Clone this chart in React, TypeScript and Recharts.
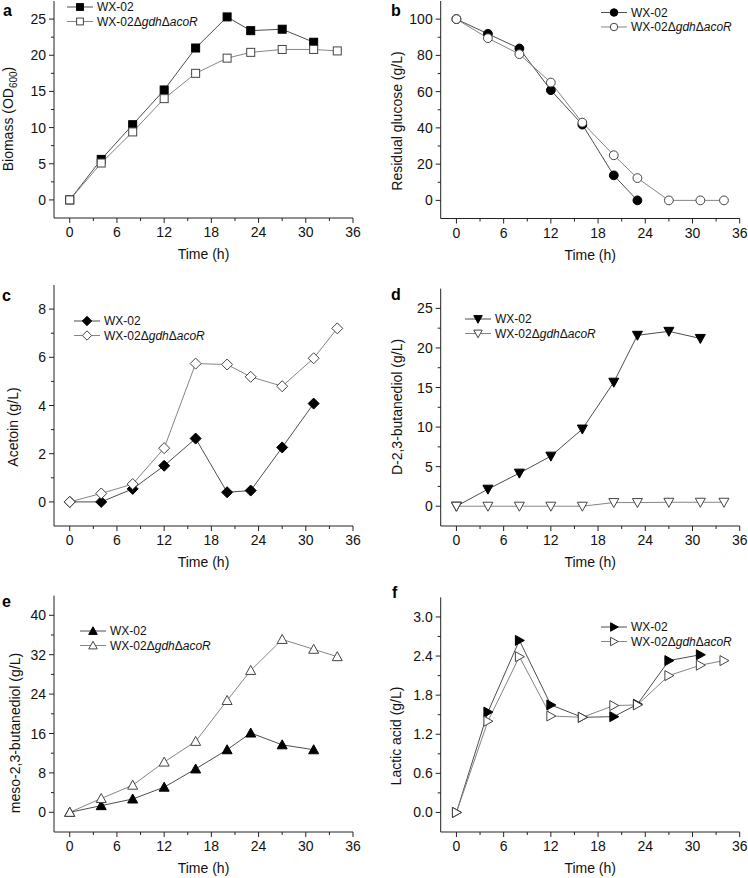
import { LineChart, Line, XAxis, YAxis, Customized } from "recharts";

// sampling times (h)
const TIME_WX = [0, 4, 8, 12, 16, 20, 23, 27, 31];
const TIME_WX_GLUCOSE = [0, 4, 8, 12, 16, 20, 23];
const TIME_MUT = [0, 4, 8, 12, 16, 20, 23, 27, 31, 34];

// a: biomass (OD600)
const biomassWX = [0, 5.6, 10.4, 15.2, 21.0, 25.3, 23.4, 23.6, 21.8];
const biomassMut = [0, 5.1, 9.4, 14.0, 17.5, 19.6, 20.4, 20.8, 20.8, 20.6];
// b: residual glucose (g/L)
const glucoseWX = [100, 91.9, 83.8, 60.8, 41.8, 13.8, 0];
const glucoseMut = [100, 89.5, 80.7, 65.0, 42.9, 24.9, 12.3, 0, 0, 0];
// c: acetoin (g/L)
const acetoinWX = [0, 0, 0.54, 1.5, 2.63, 0.4, 0.47, 2.26, 4.08];
const acetoinMut = [0, 0.35, 0.74, 2.23, 5.74, 5.7, 5.19, 4.8, 5.96, 7.2];
// d: D-2,3-butanediol (g/L)
const dBdoWX = [0, 2.15, 4.18, 6.33, 9.75, 15.67, 21.6, 22.1, 21.2];
const dBdoMut = [0, 0, 0, 0, 0, 0.46, 0.46, 0.5, 0.5, 0.5];
// e: meso-2,3-butanediol (g/L)
const mesoWX = [0, 1.35, 2.7, 5.1, 8.8, 12.7, 16.1, 13.7, 12.7];
const mesoMut = [0, 2.8, 5.5, 10.2, 14.4, 22.7, 28.8, 35.1, 33.1, 31.6];
// f: lactic acid (g/L)
const lacticWX = [0, 1.54, 2.64, 1.65, 1.46, 1.47, 1.66, 2.33, 2.42];
const lacticMut = [0, 1.4, 2.39, 1.48, 1.46, 1.64, 1.65, 2.1, 2.26, 2.33];

// axis ticks
const X_MAJOR = [0, 6, 12, 18, 24, 30, 36];
const X_MINOR = [3, 9, 15, 21, 27, 33];
const Y_MAJOR_A = [0, 5, 10, 15, 20, 25];
const Y_MINOR_A = [2.5, 7.5, 12.5, 17.5, 22.5];
const Y_MAJOR_B = [0, 20, 40, 60, 80, 100];
const Y_MINOR_B = [10, 30, 50, 70, 90];
const Y_MAJOR_C = [0, 2, 4, 6, 8];
const Y_MINOR_C = [1, 3, 5, 7];
const Y_MAJOR_D = [0, 5, 10, 15, 20, 25];
const Y_MINOR_D = [2.5, 7.5, 12.5, 17.5, 22.5];
const Y_MAJOR_E = [0, 8, 16, 24, 32, 40];
const Y_MINOR_E = [4, 12, 20, 28, 36];
const Y_MAJOR_F = [0, 0.6, 1.2, 1.8, 2.4, 3.0];
const Y_MINOR_F = [0.3, 0.9, 1.5, 2.1, 2.7];

const FONT = "'Liberation Sans', Arial, sans-serif";
const AXIS = "#222";
const WX_LINE = "#4d4d4d";
const MUT_LINE = "#858585";
const CHART_W = 374;
const CHART_H = 288;
const X_AXIS_H = 45;

type Kind = "square" | "circle" | "diamond" | "triDown" | "triUp" | "triRight";

function buildRows(tw: number[], wx: number[], tm: number[], mut: number[]) {
  const times = Array.from(new Set([...tw, ...tm])).sort((a, b) => a - b);
  return times.map((t) => {
    const i = tw.indexOf(t);
    const j = tm.indexOf(t);
    return { t, wx: i >= 0 ? wx[i] : null, mut: j >= 0 ? mut[j] : null };
  });
}

function Marker({ cx, cy, kind, filled, s = 1 }: { cx: number; cy: number; kind: Kind; filled: boolean; s?: number }) {
  const fill = filled ? "#000" : "#fff";
  const stroke = filled ? "#000" : "#444";
  const p = (pts: number[][]) => pts.map(([x, y]) => `${cx + x * s},${cy + y * s}`).join(" ");
  if (kind === "square") return <rect x={cx - 4 * s} y={cy - 4 * s} width={8 * s} height={8 * s} fill={fill} stroke={stroke} />;
  if (kind === "circle") return <circle cx={cx} cy={cy} r={4.4 * s} fill={fill} stroke={stroke} />;
  if (kind === "diamond") return <polygon points={p([[0, -5.5], [5.5, 0], [0, 5.5], [-5.5, 0]])} fill={fill} stroke={stroke} />;
  if (kind === "triDown") return <polygon points={p([[-5, -4], [5, -4], [0, 5]])} fill={fill} stroke={stroke} />;
  if (kind === "triUp") return <polygon points={p([[-5, 4], [5, 4], [0, -5]])} fill={fill} stroke={stroke} />;
  return <polygon points={p([[-4, -5], [-4, 5], [5, 0]])} fill={fill} stroke={stroke} />;
}

const mutLabel = (
  <>
    WX-02Δ<tspan fontStyle="italic">gdh</tspan>Δ<tspan fontStyle="italic">acoR</tspan>
  </>
);

function LegendBox({ x, y, kind }: { x: number; y: number; kind: Kind }) {
  const rows = [
    { filled: true, stroke: WX_LINE, text: <>WX-02</> },
    { filled: false, stroke: MUT_LINE, text: mutLabel },
  ];
  return (
    <g>
      {rows.map((r, i) => {
        const cy = y + i * 14.5;
        return (
          <g key={i}>
            <line x1={x} x2={x + 26} y1={cy} y2={cy} stroke={r.stroke} />
            <Marker cx={x + 13} cy={cy} kind={kind} filled={r.filled} s={0.85} />
            <text x={x + 30} y={cy + 4.3} fontSize={12} fontFamily={FONT} fill="#111">
              {r.text}
            </text>
          </g>
        );
      })}
    </g>
  );
}

interface PanelCfg {
  letter: string;
  colX: number;
  chartTop: number;
  axisX: number;
  plotRight: number;
  plotTop: number;
  plotBottom: number;
  yDomain: [number, number];
  yMajor: number[];
  yMinor: number[];
  yLabel: React.ReactNode;
  yLabelX: number;
  yLabelCY: number;
  legX: number;
  legY: number;
  kind: Kind;
  rows: { t: number; wx: number | null; mut: number | null }[];
  fmt: (v: number) => string;
  letterX: number;
  letterY: number;
}

const intFmt = (v: number) => String(v);
const decFmt = (v: number) => v.toFixed(1);

const PANELS: PanelCfg[] = [
  {
    letter: "a", colX: 0, chartTop: 0, axisX: 54, plotRight: 353, plotTop: 1, plotBottom: 218,
    yDomain: [-2.5, 27.5], yMajor: Y_MAJOR_A, yMinor: Y_MINOR_A,
    yLabel: (<>Biomass (OD<tspan dy={4} fontSize={10}>600</tspan><tspan dy={-4}>)</tspan></>),
    yLabelX: 13, yLabelCY: 119, legX: 67, legY: 7, kind: "square",
    rows: buildRows(TIME_WX, biomassWX, TIME_MUT, biomassMut), fmt: intFmt, letterX: 3, letterY: 16,
  },
  {
    letter: "b", colX: 374, chartTop: 0, axisX: 440.7, plotRight: 739.7, plotTop: 1, plotBottom: 218.5,
    yDomain: [-10, 110], yMajor: Y_MAJOR_B, yMinor: Y_MINOR_B,
    yLabel: "Residual glucose (g/L)", yLabelX: 402, yLabelCY: 121, legX: 601, legY: 12.5, kind: "circle",
    rows: buildRows(TIME_WX_GLUCOSE, glucoseWX, TIME_MUT, glucoseMut), fmt: intFmt, letterX: 391, letterY: 16,
  },
  {
    letter: "c", colX: 0, chartTop: 283, axisX: 54, plotRight: 353, plotTop: 285, plotBottom: 526,
    yDomain: [-1, 9], yMajor: Y_MAJOR_C, yMinor: Y_MINOR_C,
    yLabel: "Acetoin (g/L)", yLabelX: 17.5, yLabelCY: 427, legX: 74, legY: 321, kind: "diamond",
    rows: buildRows(TIME_WX, acetoinWX, TIME_MUT, acetoinMut), fmt: intFmt, letterX: 2, letterY: 301,
  },
  {
    letter: "d", colX: 374, chartTop: 283, axisX: 440.7, plotRight: 739.7, plotTop: 288.6, plotBottom: 526,
    yDomain: [-2.5, 27.5], yMajor: Y_MAJOR_D, yMinor: Y_MINOR_D,
    yLabel: "D-2,3-butanediol (g/L)", yLabelX: 402, yLabelCY: 407, legX: 465, legY: 319, kind: "triDown",
    rows: buildRows(TIME_WX, dBdoWX, TIME_MUT, dBdoMut), fmt: intFmt, letterX: 391, letterY: 300,
  },
  {
    letter: "e", colX: 0, chartTop: 590, axisX: 54, plotRight: 353, plotTop: 595.6, plotBottom: 832,
    yDomain: [-4, 44], yMajor: Y_MAJOR_E, yMinor: Y_MINOR_E,
    yLabel: "meso-2,3-butanediol (g/L)", yLabelX: 20, yLabelCY: 733, legX: 80, legY: 631, kind: "triUp",
    rows: buildRows(TIME_WX, mesoWX, TIME_MUT, mesoMut), fmt: intFmt, letterX: 2, letterY: 607,
  },
  {
    letter: "f", colX: 374, chartTop: 590, axisX: 440.7, plotRight: 739.7, plotTop: 597.4, plotBottom: 832,
    yDomain: [-0.3, 3.3], yMajor: Y_MAJOR_F, yMinor: Y_MINOR_F,
    yLabel: "Lactic acid (g/L)", yLabelX: 401, yLabelCY: 736, legX: 601, legY: 627, kind: "triRight",
    rows: buildRows(TIME_WX, lacticWX, TIME_MUT, lacticMut), fmt: decFmt, letterX: 392, letterY: 598,
  },
];

function Panel({ cfg }: { cfg: PanelCfg }) {
  const yAxisW = cfg.axisX - cfg.colX;
  const top = cfg.plotTop - cfg.chartTop;
  const right = CHART_W - (cfg.plotRight - cfg.colX);
  const bottom = CHART_H - (cfg.plotBottom - cfg.chartTop) - X_AXIS_H;
  const xMid = (cfg.axisX + cfg.plotRight) / 2 - cfg.colX;
  const yTicks = [...cfg.yMajor, ...cfg.yMinor].sort((a, b) => a - b);
  const xTicks = [...X_MAJOR, ...X_MINOR].sort((a, b) => a - b);

  const xTick = (p: any) => {
    const major = X_MAJOR.includes(p.payload.value);
    return (
      <g>
        <line x1={p.x} x2={p.x} y1={p.y} y2={p.y + (major ? 5 : 3)} stroke={AXIS} />
        {major && (
          <text x={p.x} y={p.y + 19} textAnchor="middle" fontSize={14} fontFamily={FONT} fill="#111">
            {p.payload.value}
          </text>
        )}
      </g>
    );
  };
  const yTick = (p: any) => {
    const major = cfg.yMajor.includes(p.payload.value);
    return (
      <g>
        <line x1={p.x} x2={p.x - (major ? 5 : 3)} y1={p.y} y2={p.y} stroke={AXIS} />
        {major && (
          <text x={p.x - 8} y={p.y + 5} textAnchor="end" fontSize={14} fontFamily={FONT} fill="#111">
            {cfg.fmt(p.payload.value)}
          </text>
        )}
      </g>
    );
  };
  const dot = (filled: boolean) => (p: any) => {
    if (p.cx == null || p.cy == null || p.value == null) return <g key={p.index} />;
    return (
      <g key={p.index}>
        <Marker cx={p.cx} cy={p.cy} kind={cfg.kind} filled={filled} />
      </g>
    );
  };
  const lx = cfg.yLabelX - cfg.colX;
  const ly = cfg.yLabelCY - cfg.chartTop;

  return (
    <div style={{ position: "absolute", left: cfg.colX, top: cfg.chartTop }}>
      <LineChart width={CHART_W} height={CHART_H} data={cfg.rows} margin={{ top, right, bottom, left: 0 }}>
        <XAxis
          type="number"
          dataKey="t"
          domain={[-2, 36]}
          ticks={xTicks}
          interval={0}
          tickSize={0}
          tickMargin={0}
          tickLine={false}
          height={X_AXIS_H}
          axisLine={{ stroke: AXIS }}
          tick={xTick}
          label={() => (
            <text x={xMid} y={cfg.plotBottom + 41 - cfg.chartTop} textAnchor="middle" fontSize={14} fontFamily={FONT} fill="#111">
              Time (h)
            </text>
          )}
        />
        <YAxis
          type="number"
          domain={cfg.yDomain}
          ticks={yTicks}
          interval={0}
          tickSize={0}
          tickMargin={0}
          tickLine={false}
          width={yAxisW}
          axisLine={{ stroke: AXIS }}
          tick={yTick}
          label={() => (
            <text x={lx} y={ly} transform={`rotate(-90, ${lx}, ${ly})`} textAnchor="middle" fontSize={14} fontFamily={FONT} fill="#111">
              {cfg.yLabel}
            </text>
          )}
        />
        <Line dataKey="wx" stroke={WX_LINE} strokeWidth={1} dot={dot(true)} activeDot={false} isAnimationActive={false} />
        <Line dataKey="mut" stroke={MUT_LINE} strokeWidth={1} dot={dot(false)} activeDot={false} isAnimationActive={false} />
        <Customized component={<LegendBox x={cfg.legX - cfg.colX} y={cfg.legY - cfg.chartTop} kind={cfg.kind} />} />
      </LineChart>
    </div>
  );
}

export default function App() {
  return (
    <div style={{ position: "absolute", left: 0, top: 0, width: 748, height: 878, background: "#fff", overflow: "hidden" }}>
      {PANELS.map((cfg) => (
        <Panel key={cfg.letter} cfg={cfg} />
      ))}
      <svg width={748} height={878} style={{ position: "absolute", left: 0, top: 0, pointerEvents: "none" }}>
        {PANELS.map((cfg) => (
          <text key={cfg.letter} x={cfg.letterX} y={cfg.letterY} fontSize={16} fontWeight="bold" fontFamily={FONT} fill="#000">
            {cfg.letter}
          </text>
        ))}
      </svg>
    </div>
  );
}
